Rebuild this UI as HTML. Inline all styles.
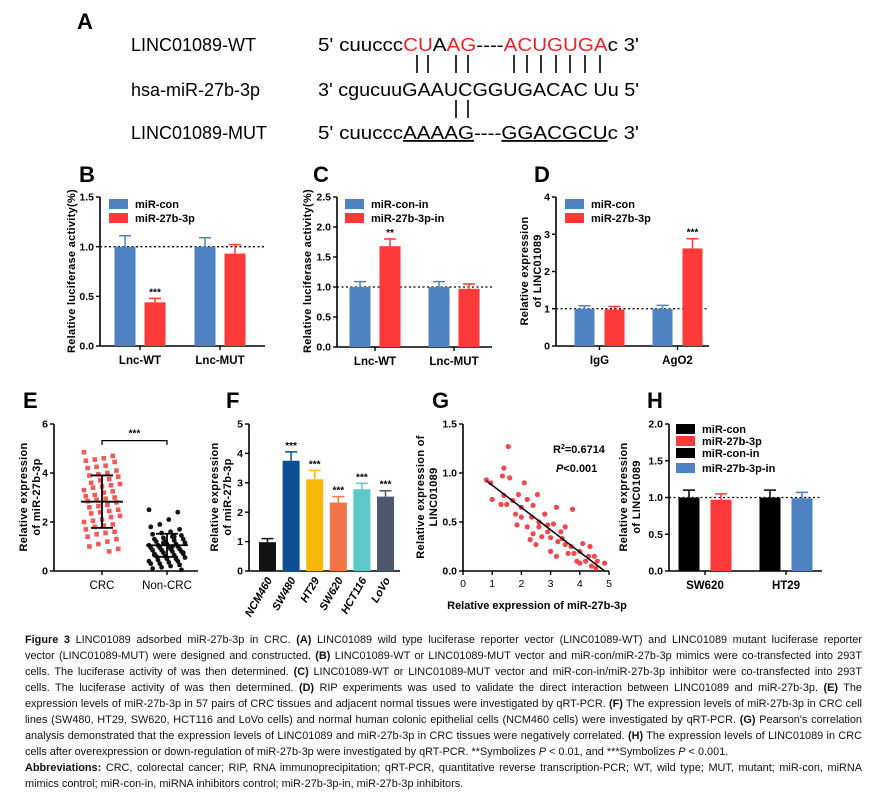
<!DOCTYPE html>
<html><head><meta charset="utf-8">
<style>
html,body{margin:0;padding:0;background:#fff;}
#wrap{position:relative;width:882px;height:803px;overflow:hidden;}
svg{position:absolute;left:0;top:0;}
text{font-family:"Liberation Sans",Arial,sans-serif;}
.cap{position:absolute;left:25px;width:837px;font-family:"Liberation Sans",Arial,sans-serif;font-size:10.9px;line-height:16px;text-align:justify;text-align-last:justify;white-space:nowrap;color:#111;}
.cap.last{text-align-last:left;}
</style></head>
<body>
<div id="wrap">
<svg id="fig" width="882" height="640" viewBox="0 0 882 640">
  <g font-size="18">
    <text x="77" y="29" font-size="22" font-weight="bold">A</text>
    <text x="131" y="51">LINC01089-WT</text>
    <text x="131" y="96">hsa-miR-27b-3p</text>
    <text x="131" y="139">LINC01089-MUT</text>
    <text x="318" y="51" textLength="321" lengthAdjust="spacingAndGlyphs">5' cuuccc<tspan fill="#e8262a">CU</tspan>A<tspan fill="#e8262a">AG</tspan>----<tspan fill="#e8262a">ACUGUGA</tspan>c 3'</text>
    <text x="318" y="96" textLength="321" lengthAdjust="spacingAndGlyphs">3' cgucuuGAAUCGGUGACAC Uu 5'</text>
    <text x="318" y="139" textLength="321" lengthAdjust="spacingAndGlyphs">5' cuuccc<tspan text-decoration="underline">AAAAG</tspan>----<tspan text-decoration="underline">GGACGCU</tspan>c 3'</text>
    <g stroke="#000" stroke-width="1.6">
      <path d="M417 55V73M428 55V73M456 55V73M468 55V73M514 55V73M527 55V73M541 55V73M556 55V73M570 55V73M585 55V73M600 55V73M456 100V118M468 100V118"/>
    </g>
  </g>
  <g id="charts"></g>
</svg>

<div class="cap" style="top:632px"><b>Figure 3</b> LINC01089 adsorbed miR-27b-3p in CRC. <b>(A)</b> LINC01089 wild type luciferase reporter vector (LINC01089-WT) and LINC01089 mutant luciferase reporter</div>
<div class="cap" style="top:648px">vector (LINC01089-MUT) were designed and constructed. <b>(B)</b> LINC01089-WT or LINC01089-MUT vector and miR-con/miR-27b-3p mimics were co-transfected into 293T</div>
<div class="cap" style="top:664px">cells. The luciferase activity of was then determined. <b>(C)</b> LINC01089-WT or LINC01089-MUT vector and miR-con-in/miR-27b-3p inhibitor were co-transfected into 293T</div>
<div class="cap" style="top:680px">cells. The luciferase activity of was then determined. <b>(D)</b> RIP experiments was used to validate the direct interaction between LINC01089 and miR-27b-3p. <b>(E)</b> The</div>
<div class="cap" style="top:696px">expression levels of miR-27b-3p in 57 pairs of CRC tissues and adjacent normal tissues were investigated by qRT-PCR. <b>(F)</b> The expression levels of miR-27b-3p in CRC cell</div>
<div class="cap" style="top:712px">lines (SW480, HT29, SW620, HCT116 and LoVo cells) and normal human colonic epithelial cells (NCM460 cells) were investigated by qRT-PCR. <b>(G)</b> Pearson's correlation</div>
<div class="cap" style="top:728px">analysis demonstrated that the expression levels of LINC01089 and miR-27b-3p in CRC tissues were negatively correlated. <b>(H)</b> The expression levels of LINC01089 in CRC</div>
<div class="cap last" style="top:744px">cells after overexpression or down-regulation of miR-27b-3p were investigated by qRT-PCR. **Symbolizes <i>P</i> &lt; 0.01, and ***Symbolizes <i>P</i> &lt; 0.001.</div>
<div class="cap" style="top:760px"><b>Abbreviations:</b> CRC, colorectal cancer; RIP, RNA immunoprecipitation; qRT-PCR, quantitative reverse transcription-PCR; WT, wild type; MUT, mutant; miR-con, miRNA</div>
<div class="cap last" style="top:776px">mimics control; miR-con-in, miRNA inhibitors control; miR-27b-3p-in, miR-27b-3p inhibitors.</div>
</div>

<script>
// ---------- data ----------
const bGroups = ["Lnc-WT","Lnc-MUT"];
const bSeries = ["miR-con","miR-27b-3p"];
const bValues = [[1.0,1.0],[0.44,0.93]];
const bErrors = [[0.11,0.09],[0.04,0.09]];
const bTicks = [0,0.5,1.0,1.5];
const bStars = [["",""],["***",""]];

const cGroups = ["Lnc-WT","Lnc-MUT"];
const cSeries = ["miR-con-in","miR-27b-3p-in"];
const cValues = [[1.0,1.0],[1.68,0.97]];
const cErrors = [[0.09,0.09],[0.12,0.08]];
const cTicks = [0,0.5,1.0,1.5,2.0,2.5];
const cStars = [["",""],["**",""]];

const dGroups = ["IgG","AgO2"];
const dSeries = ["miR-con","miR-27b-3p"];
const dValues = [[1.0,1.0],[0.98,2.62]];
const dErrors = [[0.08,0.09],[0.08,0.26]];
const dTicks = [0,1,2,3,4];
const dStars = [["",""],["","***"]];

const eGroups = ["CRC","Non-CRC"];
const eCRC = [4.85,4.7,4.6,4.55,4.5,4.45,4.3,4.25,4.2,4.1,4.0,3.95,3.9,3.85,3.75,3.7,3.6,3.55,3.5,3.45,3.4,3.3,3.25,3.2,3.1,3.05,3.0,2.95,2.9,2.85,2.8,2.7,2.65,2.6,2.5,2.45,2.4,2.35,2.25,2.2,2.1,2.05,2.0,1.9,1.85,1.8,1.7,1.6,1.55,1.5,1.4,1.3,1.2,1.1,1.0,0.9,0.8];
const eNon = [2.5,2.4,2.1,1.9,1.8,1.7,1.6,1.55,1.5,1.45,1.4,1.35,1.3,1.3,1.25,1.2,1.2,1.15,1.1,1.1,1.05,1.05,1.0,1.0,0.95,0.95,0.9,0.9,0.85,0.85,0.8,0.8,0.75,0.7,0.7,0.65,0.6,0.6,0.55,0.5,0.5,0.45,0.4,0.4,0.35,0.3,0.3,0.25,0.2,0.15,0.1,0.05,1.0,1.15,0.65,0.75,1.4];
const eMean = [2.83,1.05];
const eSD = [1.07,0.47];
const eTicks = [0,2,4,6];

const fCats = ["NCM460","SW480","HT29","SW620","HCT116","LoVo"];
const fValues = [0.98,3.75,3.12,2.33,2.78,2.53];
const fErrors = [0.12,0.3,0.3,0.2,0.2,0.2];
const fStars = ["","***","***","***","***","***"];
const fTicks = [0,1,2,3,4,5];

const gX = [0.8,0.95,1.0,1.3,1.35,1.4,1.5,1.55,1.6,1.4,1.8,1.85,1.9,2.0,2.1,2.0,2.2,2.3,2.2,2.4,2.4,2.5,2.6,2.7,2.55,2.6,2.8,2.9,3.0,3.1,3.0,3.2,3.2,3.35,3.4,3.5,3.5,3.6,3.75,3.7,3.8,3.9,4.0,4.1,4.0,4.2,4.3,4.35,4.4,4.5,4.6,4.85,4.55,3.25,2.9,2.35,1.7];
const gY = [0.93,0.9,0.73,0.68,0.97,1.05,0.68,1.27,0.95,0.77,0.58,0.47,0.78,0.65,0.9,0.55,0.73,0.32,0.45,0.67,0.38,0.27,0.45,0.35,0.78,0.5,0.58,0.47,0.34,0.48,0.2,0.65,0.15,0.4,0.33,0.27,0.45,0.18,0.63,0.25,0.18,0.1,0.08,0.28,0.2,0.1,0.15,0.25,0.05,0.15,0.1,0.08,0.03,0.3,0.4,0.55,0.72];
const gLineX = [0.8,4.85];
const gLineY = [0.92,0.0];
const gXTicks = [0,1,2,3,4,5];
const gYTicks = [0,0.5,1.0,1.5];

const hGroups = ["SW620","HT29"];
const hSeries = ["miR-con","miR-27b-3p","miR-con-in","miR-27b-3p-in"];
const hValues = [[1.0,1.0],[0.97,0.99]];
const hErrors = [[0.1,0.1],[0.08,0.08]];
const hTicks = [0,0.5,1.0,1.5,2.0];

// ---------- helpers ----------
const NS = "http://www.w3.org/2000/svg";
const root = document.getElementById("charts");
function el(tag, attrs, parent, txt){
  const e = document.createElementNS(NS, tag);
  for (const k in attrs) e.setAttribute(k, attrs[k]);
  if (txt !== undefined) e.textContent = txt;
  (parent || root).appendChild(e);
  return e;
}
function scale(d0,d1,r0,r1){ return v => r0 + (v-d0)/(d1-d0)*(r1-r0); }
const BLUE="#4e82c0", RED="#fc3a3a";

function axisY(g, x, y, ticks, fmt, yEnd){
  const ax = el("line",{x1:x,x2:x,y1:y(ticks[ticks.length-1]),y2:yEnd||y(ticks[0]),stroke:"#000","stroke-width":1.6},g);
  
  
  ticks.forEach(t=>{
    const tk = el("line",{x1:x-4,x2:x,y1:y(t),y2:y(t),stroke:"#000","stroke-width":1.4},g);
    
    
    const tl = el("text",{x:x-6,y:y(t)+3.6,"text-anchor":"end","font-size":10.5,"font-weight":"bold"},g,fmt(t));
    
    
  });
}
function axisX(g, x0, x1, yb){
  const ax = el("line",{x1:x0,x2:x1,y1:yb,y2:yb,stroke:"#000","stroke-width":1.6},g);
  
  
}
function yTitle(g, x, yc, lines){
  lines.forEach((s,i)=>{
    const t = el("text",{x:0,y:0,transform:`translate(${x+i*13},${yc}) rotate(-90)`,"text-anchor":"middle","font-size":11,"font-weight":"bold","letter-spacing":"0.3"},g,s);
    
    
  });
}
function letter(g, x, y, s){
  const t = el("text",{x:x,y:y,"font-size":22,"font-weight":"bold"},g,s);
  
  
}
function legend(g, x, ys, names, colors){
  names.forEach((n,i)=>{
    const r = el("rect",{x:x,y:ys[i]-5,width:19,height:10,fill:colors[i]},g);
    
    
    const t = el("text",{x:x+26,y:ys[i]+4,"font-size":11,"font-weight":"bold"},g,n);
    
    
  });
}
function bar(g, x, w, y, v, err, color, star, name){
  const r = el("rect",{x:x,y:y(v),width:w,height:y(0)-y(v),fill:color},g);
  
  
  const cx = x+w/2, ye = y(v+err);
  const eb = el("path",{d:`M${cx} ${y(v)}V${ye}M${cx-6} ${ye}H${cx+6}`,stroke:color,"stroke-width":1.5,fill:"none"},g);
  
  
  if(star){
    const s = el("text",{x:cx,y:ye-3,"text-anchor":"middle","font-size":10,"font-weight":"bold"},g,star);
    
    
  }
}
function groupedBars(cfg){
  const g = el("g",{});
  
  
  const y = scale(0, cfg.ticks[cfg.ticks.length-1], cfg.y0, cfg.y1);
  axisY(g, cfg.ax, y, cfg.ticks, cfg.fmt);
  axisX(g, cfg.ax, cfg.xEnd, cfg.y0);
  const ref = el("line",{x1:cfg.ax,x2:cfg.xEnd,y1:y(1),y2:y(1),stroke:"#000","stroke-width":1.3,"stroke-dasharray":"2,2.5"},g);
  
  
  cfg.groups.forEach((gn,gi)=>{
    const c = cfg.gx0 + gi*cfg.gstep;
    cfg.values.forEach((ser,si)=>{
      const off = cfg.offsets[si];
      bar(g, c+off-cfg.bw/2, cfg.bw, y, ser[gi], cfg.errors[si][gi], cfg.color(si,gi), cfg.stars ? cfg.stars[si][gi] : "", "bar-"+gn.toLowerCase()+"-"+si);
    });
    const tk = el("line",{x1:c,x2:c,y1:cfg.y0,y2:cfg.y0+4,stroke:"#000","stroke-width":1.4},g);
    
    
    const lab = el("text",{x:c,y:cfg.y0+18,"text-anchor":"middle","font-size":11.5,"font-weight":"bold"},g,gn);
    
    
  });
  return g;
}
const f1 = t=>t.toFixed(1), f0 = t=>String(t);
const twoCol = (si,gi)=> si===0 ? BLUE : RED;
const hCols = [["#000",RED],["#000",BLUE]];
const hCol = (si,gi)=> hCols[gi][si];

// ---------- B ----------
let gB = groupedBars({name:"panel-b-chart",ax:100,xEnd:265,y0:346,y1:197,ticks:bTicks,fmt:f1,groups:bGroups,gx0:140,gstep:80,offsets:[-15,15],bw:21,values:bValues,errors:bErrors,color:twoCol,stars:bStars});
letter(gB,79,182,"B"); yTitle(gB,75,271,["Relative luciferase activity(%)"]);
legend(gB,109,[204,218],bSeries,[BLUE,RED]);
// ---------- C ----------
let gC = groupedBars({name:"panel-c-chart",ax:337,xEnd:492,y0:347,y1:197,ticks:cTicks,fmt:f1,groups:cGroups,gx0:375,gstep:79,offsets:[-15,15],bw:21,values:cValues,errors:cErrors,color:twoCol,stars:cStars});
letter(gC,313,182,"C"); yTitle(gC,311,271,["Relative luciferase activity(%)"]);
legend(gC,345,[204,218],cSeries,[BLUE,RED]);
// ---------- D ----------
let gD = groupedBars({name:"panel-d-chart",ax:556,xEnd:709,y0:346,y1:197,ticks:dTicks,fmt:f0,groups:dGroups,gx0:599.5,gstep:78,offsets:[-15,15],bw:20,values:dValues,errors:dErrors,color:twoCol,stars:dStars});
letter(gD,534,182,"D"); yTitle(gD,528,271,["Relative expression","of LINC01089"]);
legend(gD,565,[204,218],dSeries,[BLUE,RED]);
// ---------- H ----------
let gH = groupedBars({name:"panel-h-chart",ax:669,xEnd:822,y0:571,y1:424,ticks:hTicks,fmt:f1,groups:hGroups,gx0:705,gstep:81,offsets:[-16,16],bw:21,values:hValues,errors:hErrors,color:hCol,stars:null});
letter(gH,647,408,"H"); yTitle(gH,627,497,["Relative expression","of LINC01089"]);
legend(gH,676,[429,441,453,468],hSeries,["#000",RED,"#000",BLUE]);

// ---------- E ----------
(function(){
  const g = el("g",{});
  
  
  const y = scale(0,6,571,424);
  axisY(g,54,y,eTicks,f0);
  axisX(g,54,198,571);
  letter(g,23,408,"E"); yTitle(g,27,497,["Relative expression","of miR-27b-3p"]);
  const centers=[102,167];
  [eCRC,eNon].forEach((arr,gi)=>{
    arr.forEach((v,i)=>{
      const jit = (((i*37)%21)-10)*1.8;
      if(gi===0){
        const m = el("rect",{x:centers[gi]+jit-2.3,y:y(v)-2.3,width:4.6,height:4.6,fill:"#f25a5a"},g);
        
        
      } else {
        const m = el("circle",{cx:centers[gi]+jit,cy:y(v),r:2.4,fill:"#111"},g);
        
        
      }
    });
    const c = centers[gi], col = "#000";
    const ml = el("path",{d:`M${c-21} ${y(eMean[gi])}H${c+21}M${c} ${y(eMean[gi]-eSD[gi])}V${y(eMean[gi]+eSD[gi])}M${c-11} ${y(eMean[gi]-eSD[gi])}H${c+11}M${c-11} ${y(eMean[gi]+eSD[gi])}H${c+11}`,stroke:col,"stroke-width":1.8,fill:"none"},g);
    
    
    const tk = el("line",{x1:c,x2:c,y1:571,y2:575,stroke:"#000","stroke-width":1.4},g);
    
    
    const lab = el("text",{x:c,y:589,"text-anchor":"middle","font-size":11.5},g,eGroups[gi]);
    
    
  });
  const br = el("path",{d:`M${centers[0]} ${y(5.15)}V${y(5.32)}H${centers[1]}V${y(5.15)}`,stroke:"#000","stroke-width":1.3,fill:"none"},g);
  
  
  const st = el("text",{x:(centers[0]+centers[1])/2,y:y(5.32)-4,"text-anchor":"middle","font-size":10,"font-weight":"bold"},g,"***");
  
  
})();

// ---------- F ----------
(function(){
  const g = el("g",{});
  
  
  const y = scale(0,5,571,424);
  axisY(g,249,y,fTicks,f0);
  axisX(g,249,400,571);
  letter(g,226,408,"F"); yTitle(g,218,497,["Relative expression","of miR-27b-3p"]);
  const cols=["#111","#0c4f92","#f6b90a","#f07448","#5cc9c8","#4d586c"];
  fCats.forEach((c,i)=>{
    const cx = 267.5 + i*23.6;
    bar(g, cx-8.5, 17, y, fValues[i], fErrors[i], cols[i], fStars[i], "bar-"+c.toLowerCase());
    const lab = el("text",{x:0,y:0,transform:`translate(${cx+5},${580}) rotate(-60)`,"text-anchor":"end","font-size":11,"font-weight":"bold","font-style":"italic"},g,c);
    
    
  });
})();

// ---------- G ----------
(function(){
  const g = el("g",{});
  
  
  const y = scale(0,1.5,571,424), x = scale(0,5,463,609);
  axisY(g,463,y,gYTicks,f1);
  axisX(g,463,609,571);
  gXTicks.forEach(t=>{
    const tk = el("line",{x1:x(t),x2:x(t),y1:571,y2:575,stroke:"#000","stroke-width":1.4},g);
    
    
    const tl = el("text",{x:x(t),y:587,"text-anchor":"middle","font-size":10.5},g,String(t));
    
    
  });
  letter(g,432,408,"G"); yTitle(g,424,497,["Relative expression of","LINC01089"]);
  gX.forEach((v,i)=>{
    const p = el("circle",{cx:x(v),cy:y(gY[i]),r:2.6,fill:"#f2474c"},g);
    
    
  });
  const ln = el("line",{x1:x(gLineX[0]),y1:y(gLineY[0]),x2:x(gLineX[1]),y2:y(gLineY[1]),stroke:"#000","stroke-width":1.5},g);
  
  
  const r2 = el("text",{x:553,y:453,"font-size":11,"font-weight":"bold"},g);
  
  
  r2.innerHTML = 'R<tspan dy="-4" font-size="7">2</tspan><tspan dy="4">=0.6714</tspan>';
  const pv = el("text",{x:556,y:472,"font-size":11,"font-weight":"bold"},g);
  
  
  pv.innerHTML = '<tspan font-style="italic">P</tspan>&lt;0.001';
  const xt = el("text",{x:537,y:609,"text-anchor":"middle","font-size":11,"font-weight":"bold"},g,"Relative expression of miR-27b-3p");
  
  
})();
</script>
</body></html>
